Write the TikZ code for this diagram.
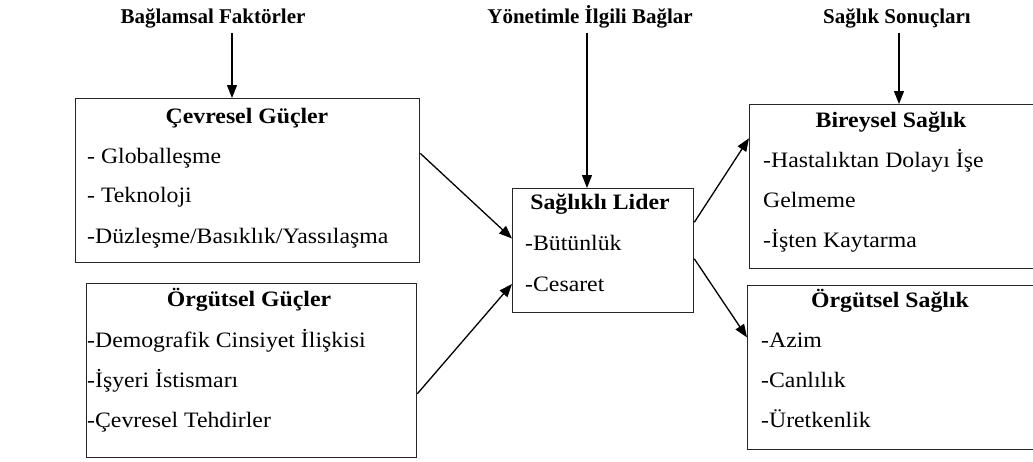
\documentclass[tikz,border=0pt]{standalone}
\usepackage{fontspec}
\setmainfont{Liberation Serif}
\newfontfamily\bodyfont{Liberation Serif}[FakeStretch=1.08]
\usetikzlibrary{arrows.meta,calc}
\begin{document}
\begin{tikzpicture}[x=1pt,y=-1pt,
  box/.style={draw=black!85,line width=1.3pt,rectangle,inner sep=0pt,anchor=north west},
  toplabel/.style={font=\fontsize{21}{24}\selectfont\bfseries,inner sep=0pt,anchor=base},
  head/.style={font=\bodyfont\fontsize{22}{26}\selectfont\bfseries,inner sep=0pt,anchor=base},
  item/.style={font=\bodyfont\fontsize{22}{26}\selectfont,inner sep=0pt,anchor=base west},
  arr/.style={line width=1.3pt,-{Triangle[length=13pt,width=10pt]}}]
\useasboundingbox (0,0) rectangle (1033,461);
\begin{scope}
\clip (0,0) rectangle (1033,461);
% boxes
\node[box,minimum width=344pt,minimum height=164pt] (b1) at (75,98) {};
\node[box,minimum width=330pt,minimum height=174pt] (b2) at (86,283) {};
\node[box,minimum width=181pt,minimum height=124pt] (b3) at (512,188) {};
\node[box,minimum width=300pt,minimum height=164pt] (b4) at (749,104) {};
\node[box,minimum width=300pt,minimum height=164pt] (b5) at (747,285) {};
\end{scope}
% top labels
\node[toplabel] (t1) at (213,23) {Bağlamsal Faktörler};
\node[toplabel] (t2) at (590,23) {Yönetimle İlgili Bağlar};
\node[toplabel] (t3) at (897,23) {Sağlık Sonuçları};
\coordinate (a1) at (232,33);
\coordinate (a2) at (587,33);
\coordinate (a3) at (899,33);
\draw[arr] (a1) -- (a1 |- b1.north);
\draw[arr] (a2) -- (a2 |- b3.north);
\draw[arr] (a3) -- (a3 |- b4.north);
% box 1
\node[head] (h1) at (247,123) {Çevresel Güçler};
\node[item] (i11) at (87,163) {- Globalleşme};
\node[item] (i12) at (87,202) {- Teknoloji};
\node[item] (i13) at (87,243) {-Düzleşme/Basıklık/Yassılaşma};
% box 2
\node[head] (h2) at (249,306) {Örgütsel Güçler};
\node[item] (i21) at (87,347) {-Demografik Cinsiyet İlişkisi};
\node[item] (i22) at (87,387) {-İşyeri İstismarı};
\node[item] (i23) at (87,427) {-Çevresel Tehdirler};
% box 3
\node[head] (h3) at (600,209) {Sağlıklı Lider};
\node[item] (i31) at (525,250) {-Bütünlük};
\node[item] (i32) at (525,291) {-Cesaret};
% box 4
\node[head] (h4) at (891,127) {Bireysel Sağlık};
\node[item] (i41) at (763,167) {-Hastalıktan Dolayı İşe};
\node[item] (i42) at (763,207) {Gelmeme};
\node[item] (i43) at (763,247) {-İşten Kaytarma};
% box 5
\node[head] (h5) at (890,307) {Örgütsel Sağlık};
\node[item] (i51) at (761,347) {-Azim};
\node[item] (i52) at (761,387) {-Canlılık};
\node[item] (i53) at (761,427) {-Üretkenlik};
% connectors
\draw[arr] ($(b1.north east)!0.335!(b1.south east)$) -- ($(b3.north west)!0.403!(b3.south west)$);
\draw[arr] ($(b2.north east)!0.632!(b2.south east)$) -- ($(b3.north west)!0.766!(b3.south west)$);
\draw[arr] ($(b3.north east)!0.274!(b3.south east)$) -- ($(b4.north west)!0.207!(b4.south west)$);
\draw[arr] ($(b3.north east)!0.565!(b3.south east)$) -- ($(b5.north west)!0.317!(b5.south west)$);
\end{tikzpicture}
\end{document}
